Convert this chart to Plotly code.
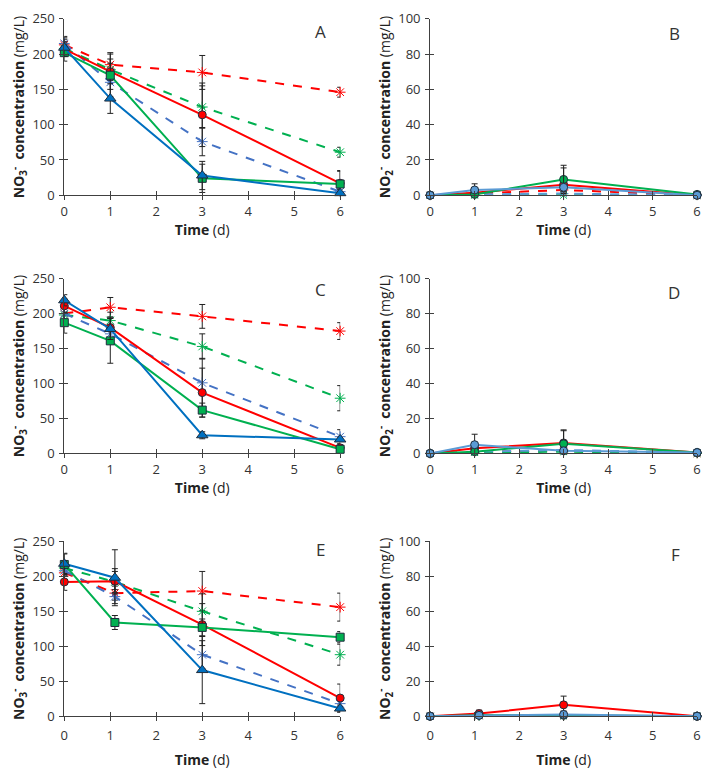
import plotly.graph_objects as go

# ---------------- data ----------------
time_ac = [0, 1, 3, 6]
time_ef = [0, 1.1, 3, 6]

# Panel A (NO3-)
A_red_s = [207, 175, 114, 17];   A_red_s_err = [10, 12, 45, 18]
A_green_s = [202, 170, 24, 16];  A_green_s_err = [12, 30, 20, 18]
A_blue_s = [209, 137, 28, 3];    A_blue_s_err = [12, 21, 20, 5]
A_red_d = [213, 185, 174, 146];  A_red_d_err = [12, 17, 24, 7]
A_green_d = [208, 178, 125, 61]; A_green_d_err = [10, 15, 30, 7]
A_blue_d = [215, 160, 76, 5];    A_blue_d_err = [8, 10, 20, 5]

# Panel B (NO2-)
B_red_s = [0, 1.5, 6, 0];    B_red_s_err = [0.5, 2, 4, 0.5]
B_green_s = [0, 0.5, 9, 0.5]; B_green_s_err = [0.5, 1, 8, 0.5]
B_blue_s = [0, 3, 4.5, 0];   B_blue_s_err = [0.5, 3.5, 11, 0.5]
B_red_d = [0, 1, 3, 0];      B_red_d_err = [0, 0.5, 1, 0]
B_green_d = [0, 0, 0, 0];    B_green_d_err = [0, 0, 0, 0]
B_blue_d = [0, 0.5, 1, 0];   B_blue_d_err = [0, 0.5, 1, 0]

# Panel C (NO3-)
C_red_s = [211, 180, 87, 8];     C_red_s_err = [10, 15, 35, 3]
C_green_s = [187, 161, 62, 6];   C_green_s_err = [15, 32, 10, 3]
C_blue_s = [219, 178, 26, 20];   C_blue_s_err = [8, 15, 5, 3]
C_red_d = [200, 209, 196, 175];  C_red_d_err = [12, 14, 17, 12]
C_green_d = [198, 190, 153, 79]; C_green_d_err = [10, 12, 18, 18]
C_blue_d = [200, 171, 101, 24];  C_blue_d_err = [8, 10, 35, 10]

# Panel D (NO2-)
D_red_s = [0, 3, 6, 0.5];     D_red_s_err = [0.5, 3, 7, 0.5]
D_green_s = [0, 1, 5.5, 0.5]; D_green_s_err = [0.5, 2, 8, 0.5]
D_blue_s = [0, 5, 1.5, 0.5];  D_blue_s_err = [0.5, 6, 2, 0.5]
D_red_d = [0, 1, 1.5, 0];     D_red_d_err = [0, 0.5, 1, 0]
D_green_d = [0, 0.5, 1, 0];   D_green_d_err = [0, 0.5, 1, 0]
D_blue_d = [0, 1, 2, 0.5];    D_blue_d_err = [0, 0.5, 1, 0]

# Panel E (NO3-)
E_red_s = [192, 193, 131, 26];   E_red_s_err = [12, 18, 30, 20]
E_green_s = [217, 134, 127, 113]; E_green_s_err = [15, 10, 12, 8]
E_blue_s = [218, 198, 66, 11];   E_blue_s_err = [15, 40, 48, 5]
E_red_d = [205, 176, 179, 156];  E_red_d_err = [12, 10, 28, 20]
E_green_d = [212, 192, 150, 88]; E_green_d_err = [10, 15, 25, 15]
E_blue_d = [208, 171, 88, 18];   E_blue_d_err = [8, 10, 20, 5]

# Panel F (NO2-)
F_red_s = [0, 1.5, 6.5, 0];   F_red_s_err = [0.3, 2, 5, 0.3]
F_green_s = [0, 0.5, 0.5, 0]; F_green_s_err = [0.3, 0.5, 0.5, 0.3]
F_blue_s = [0, 0.5, 1, 0];    F_blue_s_err = [0.3, 1, 2, 0.3]
F_red_d = [0, 0.3, 0.3, 0];   F_red_d_err = [0, 0, 0, 0]
F_green_d = [0, 0.2, 0.2, 0]; F_green_d_err = [0, 0, 0, 0]
F_blue_d = [0, 0.3, 0.3, 0];  F_blue_d_err = [0, 0, 0, 0]

panel_labels = ["A", "B", "C", "D", "E", "F"]
x_ticks = [0, 1, 2, 3, 4, 5, 6]
no3_ticks = [0, 50, 100, 150, 200, 250]
no2_ticks = [0, 20, 40, 60, 80, 100]

# ---------------- styles ----------------
RED = "#FF0000"
GREEN = "#00B050"
BLUE = "#0070C0"
BLUE_D = "#4472C4"
BLUE_NO2 = "#5B9BD5"
OUT = "#1F2D3D"
FONT = "Open Sans"
TXT = "#333333"

W, H = 709, 777
col_px = [(61, 340), (431, 701)]
row_px = [(10, 190.7), (276, 455), (545, 724)]
letter_off = [(20, 13), (23, 15), (20, 11), (23, 14), (20, 8), (22, 13)]
xtitle_standoff = [4, 4, 5, 5, 12, 12]
xlabel_standoff = [0, 0, 0, 0, 3, 3]

panels = [
    dict(t=time_ac, no3=True, s=[A_red_s, A_green_s, A_blue_s, A_red_d, A_green_d, A_blue_d],
         e=[A_red_s_err, A_green_s_err, A_blue_s_err, A_red_d_err, A_green_d_err, A_blue_d_err]),
    dict(t=time_ac, no3=False, s=[B_red_s, B_green_s, B_blue_s, B_red_d, B_green_d, B_blue_d],
         e=[B_red_s_err, B_green_s_err, B_blue_s_err, B_red_d_err, B_green_d_err, B_blue_d_err]),
    dict(t=time_ac, no3=True, s=[C_red_s, C_green_s, C_blue_s, C_red_d, C_green_d, C_blue_d],
         e=[C_red_s_err, C_green_s_err, C_blue_s_err, C_red_d_err, C_green_d_err, C_blue_d_err]),
    dict(t=time_ac, no3=False, s=[D_red_s, D_green_s, D_blue_s, D_red_d, D_green_d, D_blue_d],
         e=[D_red_s_err, D_green_s_err, D_blue_s_err, D_red_d_err, D_green_d_err, D_blue_d_err]),
    dict(t=time_ef, no3=True, s=[E_red_s, E_green_s, E_blue_s, E_red_d, E_green_d, E_blue_d],
         e=[E_red_s_err, E_green_s_err, E_blue_s_err, E_red_d_err, E_green_d_err, E_blue_d_err]),
    dict(t=time_ef, no3=False, s=[F_red_s, F_green_s, F_blue_s, F_red_d, F_green_d, F_blue_d],
         e=[F_red_s_err, F_green_s_err, F_blue_s_err, F_red_d_err, F_green_d_err, F_blue_d_err]),
]

fig = go.Figure()
layout = {}
annotations = []

for i, p in enumerate(panels):
    n = i + 1
    r, c = divmod(i, 2)
    x0, x1 = col_px[c]
    y0, y1 = row_px[r]
    xa, ya = f"x{n}", f"y{n}"
    xo, yo = f"x{n+6}", f"y{n+6}"
    xdom = [x0 / W, x1 / W]
    ydom = [1 - y1 / H, 1 - y0 / H]
    ymax = 250 if p["no3"] else 100
    yt = no3_ticks if p["no3"] else no2_ticks
    blue = BLUE if p["no3"] else BLUE_NO2
    colors = [RED, GREEN, blue, RED, GREEN, BLUE_D if p["no3"] else BLUE_NO2]
    if p["no3"]:
        symbols = ["circle", "square", "triangle-up", "asterisk-open", "asterisk-open", "asterisk-open"]
        sizes = [8, 8, 10, 9, 9, 9]
    else:
        symbols = ["circle", "circle", "circle", "asterisk-open", "asterisk-open", "asterisk-open"]
        sizes = [8, 8, 8, 8, 8, 8]
    dashes = ["solid", "solid", "solid", "dash", "dash", "dash"]
    order = [3, 4, 5, 0, 1, 2]
    for k in order:
        solid = k < 3
        fig.add_trace(go.Scatter(
            x=p["t"], y=p["s"][k], xaxis=xa, yaxis=ya, mode="lines+markers",
            line=dict(color=colors[k], width=2, dash=dashes[k]),
            marker=dict(symbol=symbols[k], size=sizes[k], color=colors[k],
                        line=dict(color=OUT if solid else colors[k], width=1)),
            error_y=dict(type="data", array=p["e"][k], visible=True,
                         color="#222222", thickness=1, width=3),
            cliponaxis=False, showlegend=False, hoverinfo="skip"))
    # dummy trace for crossing-tick overlay axes
    fig.add_trace(go.Scatter(x=[None], y=[None], xaxis=xo, yaxis=yo, showlegend=False,
                             hoverinfo="skip"))

    key = "" if n == 1 else str(n)
    layout[f"xaxis{key}"] = dict(
        domain=xdom, anchor=ya, range=[0, 6], tickvals=x_ticks,
        showline=True, linecolor="#404040", linewidth=1, showgrid=False, zeroline=False,
        ticks="outside", ticklen=4, tickcolor="#404040",
        ticklabelstandoff=xlabel_standoff[i],
        tickfont=dict(family=FONT, size=13, color=TXT),
        title=dict(text="<b>Time</b> (d)", font=dict(family=FONT, size=14, color="#222222"),
                   standoff=xtitle_standoff[i]))
    layout[f"yaxis{key}"] = dict(
        domain=ydom, anchor=xa, range=[0, ymax], tickvals=yt,
        showline=True, linecolor="#404040", linewidth=1, showgrid=False, zeroline=False,
        ticks="outside", ticklen=4, tickcolor="#404040", ticklabelstandoff=2,
        tickfont=dict(family=FONT, size=13, color=TXT),
        title=dict(text=("<b>NO<sub>3</sub><sup>-</sup>  concentration</b> (mg/L)" if p["no3"]
                         else "<b>NO<sub>2</sub><sup>-</sup>  concentration</b> (mg/L)"),
                   font=dict(family=FONT, size=14, color="#222222"), standoff=4))
    layout[f"xaxis{n+6}"] = dict(
        domain=xdom, anchor=yo, overlaying=xa, range=[0, 6], tickvals=x_ticks,
        showline=False, showgrid=False, zeroline=False, showticklabels=False,
        ticks="inside", ticklen=4, tickcolor="#404040")
    layout[f"yaxis{n+6}"] = dict(
        domain=ydom, anchor=xo, overlaying=ya, range=[0, ymax], tickvals=yt,
        showline=False, showgrid=False, zeroline=False, showticklabels=False,
        ticks="inside", ticklen=4, tickcolor="#404040")

    dx, dy = letter_off[i]
    annotations.append(dict(
        text=panel_labels[i], xref="paper", yref="paper",
        x=(x1 - dx) / W, y=1 - (y0 + dy) / H, xanchor="center", yanchor="middle",
        showarrow=False, font=dict(family=FONT, size=17, color=TXT)))

fig.update_layout(
    width=W, height=H, margin=dict(l=0, r=0, t=0, b=0),
    paper_bgcolor="white", plot_bgcolor="white",
    annotations=annotations, **layout)

fig.write_html("out.html", config={"displayModeBar": False},
               post_script="document.body.style.margin='0';document.body.style.overflow='hidden';")
